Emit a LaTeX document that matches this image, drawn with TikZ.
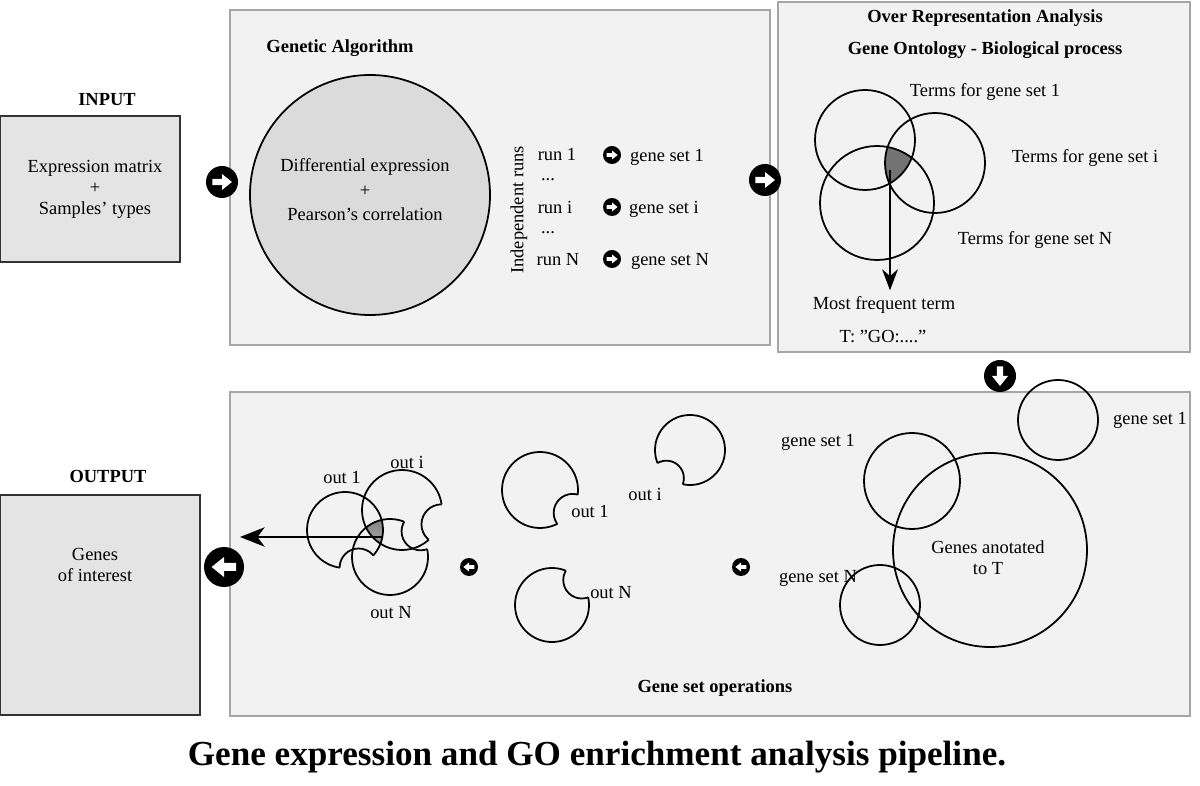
\documentclass[tikz,border=0pt]{standalone}
\usepackage{fontspec}
\setmainfont{Liberation Serif}
\usetikzlibrary{arrows.meta,calc}

\definecolor{panelbg}{HTML}{F2F2F2}
\definecolor{boxbg}{HTML}{E4E4E4}
\definecolor{shade}{HTML}{A0A0A0}

\tikzset{
  panel/.style={draw=black!35, line width=1.2pt, fill=panelbg},
  iobox/.style={draw=black!80, line width=0.8pt, fill=boxbg},
  txt/.style={font=\fontsize{10.5}{12}\selectfont, align=center},
  ttl/.style={font=\fontsize{10.5}{12}\selectfont\bfseries},
  ring/.style={draw, line width=1pt},
}
% round arrow icon: name, position, radius, rotation
\newcommand{\roundarrow}[4]{
  \node[circle, fill=black, minimum size=#3*2*0.02cm, inner sep=0pt] (#1) at #2 {};
  \begin{scope}[shift={(#1.center)}, rotate=#4]
    \fill[white] (-0.6*#3,-0.2*#3) -- (0,-0.2*#3) -- (0,-0.5*#3) -- (0.62*#3,0)
      -- (0,0.5*#3) -- (0,0.2*#3) -- (-0.6*#3,0.2*#3) -- cycle;
  \end{scope}
}
% bitten circle: center, radius, bite angle
\newcommand{\bitten}[3]{
  \begin{scope}[even odd rule]
    \clip (0,0) rectangle (1200,786) ($#1+(#3:#2*1.05)$) circle (#2*0.5);
    \draw[ring] #1 circle (#2);
  \end{scope}
  \begin{scope}
    \clip #1 circle (#2);
    \draw[ring] ($#1+(#3:#2*1.05)$) circle (#2*0.5);
  \end{scope}
}

\begin{document}
\begin{tikzpicture}[x=0.02cm, y=-0.02cm]
\useasboundingbox (0,0) rectangle (1200,786);

% panels
\draw[panel] (230,10) rectangle (770,345);
\draw[panel] (778,2) rectangle (1190,352);
\draw[panel] (230,392) rectangle (1190,716);

% input / output
\node[ttl] (intitle) at (107,100) {INPUT};
\draw[iobox] (0,116) rectangle (180,262);
\node[txt] (input) at (95,189) {Expression matrix\\+\\Samples' types};
\node[ttl] (outtitle) at (108,476) {OUTPUT};
\draw[iobox] (0,495) rectangle (200,715);
\node[txt] (output) at (95,565) {Genes\\of interest};

% genetic algorithm
\node[ttl] (gatitle) at (340,48) {Genetic Algorithm};
\draw[ring, fill=black!14] (370,195) circle (120);
\node[txt] (ga) at (365,190) {Differential expression\\[2pt]+\\[2pt]Pearson's correlation};
\node[txt, rotate=90] (indep) at (519,210) {Independent runs};
\node[txt] (run1) at (557,155) {run 1};
\node[txt] at (548,180) {...};
\node[txt] (runi) at (555,207) {run i};
\node[txt] at (548,233) {...};
\node[txt] (runN) at (558,260) {run N};
\node[txt] (gs1) at (667,157) {gene set 1};
\node[txt] (gsi) at (664,209) {gene set i};
\node[txt] (gsN) at (670,261) {gene set N};
\roundarrow{r1}{(612,155)}{9}{0}
\roundarrow{ri}{(612,207)}{9}{0}
\roundarrow{rN}{(612,259)}{9}{0}

% over representation analysis
\node[ttl] (oratitle) at (985,18) {Over Representation Analysis};
\node[ttl] (gotitle) at (985,50) {Gene Ontology - Biological process};
\begin{scope}
  \clip (865,140) circle (50);
  \clip (935,163) circle (50);
  \fill[black!55] (877,203) circle (57);
\end{scope}
\draw[ring] (865,140) circle (50);
\draw[ring] (935,163) circle (50);
\draw[ring] (877,203) circle (57);
\node[txt] (t1) at (985,92) {Terms for gene set 1};
\node[txt] (ti) at (1085,158) {Terms for gene set i};
\node[txt] (tN) at (1035,240) {Terms for gene set N};
\coordinate (venn) at (890,170);
\node[txt] (freq) at (884,305) {Most frequent term};
\node[txt] (term) at (883,337) {T: "GO:...."};
\draw[line width=1pt, -{Stealth[length=12pt, width=9pt]}] (venn) -- (freq.north -| venn);

% gene set operations
\node[ttl] (opstitle) at (715,688) {Gene set operations};
\draw[ring] (990,550) circle (97);
\draw[ring] (1058,420) circle (40);
\draw[ring] (912,481) circle (48);
\draw[ring] (880,605) circle (40);
\node[txt] (ann) at (988,558) {Genes anotated\\to T};
\node[txt] (g1a) at (1150,420) {gene set 1};
\node[txt] (g1b) at (818,442) {gene set 1};
\node[txt] (gNa) at (818,578) {gene set N};

\bitten{(540,490)}{38}{35}
\bitten{(690,450)}{35}{130}
\bitten{(552,605)}{37}{-40}
\node[txt] (o1) at (590,512) {out 1};
\node[txt] (oi) at (645,494) {out i};
\node[txt] (oN) at (611,593) {out N};

\begin{scope}
  \clip (345,530) circle (38);
  \clip (402,510) circle (40);
  \fill[shade] (390,557) circle (38);
\end{scope}
\bitten{(345,530)}{38}{70}
\bitten{(402,510)}{40}{20}
\bitten{(390,557)}{38}{-40}
\node[txt] (p1) at (342,478) {out 1};
\node[txt] (pi) at (407,462) {out i};
\node[txt] (pN) at (391,613) {out N};
\coordinate (cluster) at (382,537);
\draw[line width=1pt, -{Stealth[length=14pt, width=11pt, inset=4pt]}] (cluster) -- (240,537);

% flow icons
\roundarrow{a1}{(222,182)}{16}{0}
\roundarrow{a2}{(765,180)}{16}{0}
\roundarrow{a3}{(1000,376)}{16}{-90}
\roundarrow{a4}{(469,567)}{9}{180}
\roundarrow{a5}{(741,567)}{9}{180}
\roundarrow{a6}{(224,567)}{20}{180}

% caption
\node[font=\fontsize{20}{22}\selectfont\bfseries] (caption) at (597,757) {Gene expression and GO enrichment analysis pipeline.};
\end{tikzpicture}
\end{document}
